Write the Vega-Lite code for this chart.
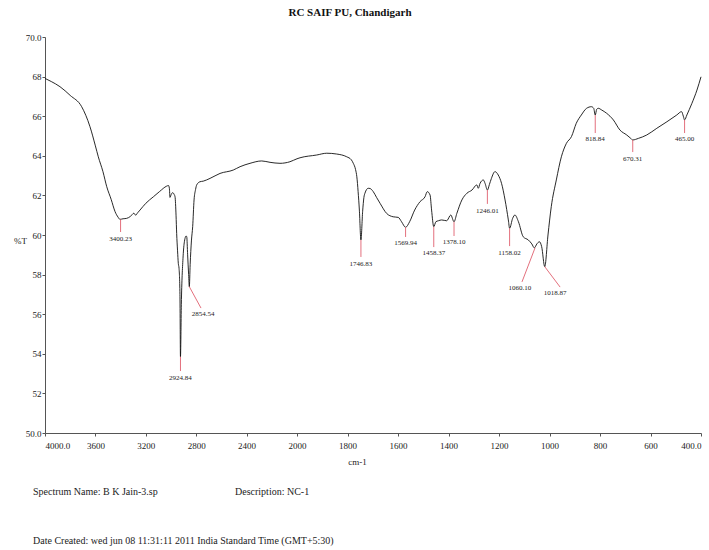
{
  "$schema": "https://vega.github.io/schema/vega-lite/v6.json",
  "width": 656,
  "height": 396,
  "autosize": "none",
  "padding": {"left": 45, "top": 37, "right": 8, "bottom": 117},
  "background": "white",
  "title": {"text": "RC SAIF PU, Chandigarh", "font": "Liberation Serif", "fontSize": 11, "fontWeight": "bold", "color": "#111", "dx": -23, "offset": 15},
  "config": {
    "view": {"stroke": null},
    "font": "Liberation Serif",
    "axis": {"grid": false, "domainColor": "#555", "tickColor": "#555", "labelColor": "#222", "labelFont": "Liberation Serif", "labelFontSize": 9, "titleFont": "Liberation Serif", "titleFontWeight": "normal", "titleColor": "#222", "titleFontSize": 9, "tickSize": 3, "labelOverlap": false}
  },
  "datasets": {
    "spectrum": [
      {"wn": 4000, "T": 67.91}, {"wn": 3950, "T": 67.75}, {"wn": 3881, "T": 67.49}, {"wn": 3800, "T": 67.05},
      {"wn": 3709, "T": 66.48}, {"wn": 3643, "T": 65.47}, {"wn": 3600, "T": 64.5}, {"wn": 3577, "T": 63.95},
      {"wn": 3540, "T": 63.2}, {"wn": 3510, "T": 62.44}, {"wn": 3475, "T": 61.8}, {"wn": 3444, "T": 61.18},
      {"wn": 3420, "T": 60.9}, {"wn": 3405, "T": 60.79}, {"wn": 3380, "T": 60.82}, {"wn": 3352, "T": 60.84},
      {"wn": 3320, "T": 60.95}, {"wn": 3295, "T": 61.1}, {"wn": 3280, "T": 61.0}, {"wn": 3265, "T": 61.12},
      {"wn": 3246, "T": 61.26}, {"wn": 3200, "T": 61.6}, {"wn": 3140, "T": 61.93}, {"wn": 3090, "T": 62.2},
      {"wn": 3034, "T": 62.47}, {"wn": 3020, "T": 62.5}, {"wn": 3013, "T": 62.36}, {"wn": 3008, "T": 61.9},
      {"wn": 2998, "T": 62.05}, {"wn": 2987, "T": 62.14}, {"wn": 2975, "T": 62.05}, {"wn": 2968, "T": 61.93},
      {"wn": 2960, "T": 61.0}, {"wn": 2955, "T": 60.08}, {"wn": 2948, "T": 59.2}, {"wn": 2942, "T": 58.57},
      {"wn": 2936, "T": 58.3}, {"wn": 2929, "T": 57.0}, {"wn": 2924.84, "T": 53.85}, {"wn": 2918, "T": 56.5},
      {"wn": 2905, "T": 58.8}, {"wn": 2895, "T": 59.6}, {"wn": 2880, "T": 59.95}, {"wn": 2875, "T": 59.91},
      {"wn": 2868, "T": 59.0}, {"wn": 2860, "T": 58.0}, {"wn": 2854.54, "T": 57.39}, {"wn": 2848, "T": 58.5},
      {"wn": 2838, "T": 59.7}, {"wn": 2828, "T": 60.42}, {"wn": 2817, "T": 61.77}, {"wn": 2805, "T": 62.3},
      {"wn": 2796, "T": 62.53}, {"wn": 2770, "T": 62.69}, {"wn": 2744, "T": 62.72}, {"wn": 2690, "T": 62.86},
      {"wn": 2611, "T": 63.11}, {"wn": 2506, "T": 63.28}, {"wn": 2452, "T": 63.45}, {"wn": 2373, "T": 63.62},
      {"wn": 2280, "T": 63.74}, {"wn": 2214, "T": 63.67}, {"wn": 2135, "T": 63.62}, {"wn": 2056, "T": 63.7},
      {"wn": 2000, "T": 63.85}, {"wn": 1988, "T": 63.9}, {"wn": 1922, "T": 64.04}, {"wn": 1882, "T": 64.13},
      {"wn": 1843, "T": 64.09}, {"wn": 1803, "T": 63.95}, {"wn": 1785, "T": 63.8}, {"wn": 1777, "T": 63.62},
      {"wn": 1768, "T": 63.3}, {"wn": 1763, "T": 62.94}, {"wn": 1758, "T": 62.2}, {"wn": 1753, "T": 61.26},
      {"wn": 1746.83, "T": 59.75}, {"wn": 1740, "T": 61.2}, {"wn": 1735, "T": 61.9}, {"wn": 1731, "T": 62.11},
      {"wn": 1718, "T": 62.36}, {"wn": 1711, "T": 62.35}, {"wn": 1698, "T": 62.19}, {"wn": 1685, "T": 61.9},
      {"wn": 1671, "T": 61.6}, {"wn": 1645, "T": 61.09}, {"wn": 1619, "T": 60.92}, {"wn": 1599, "T": 60.89},
      {"wn": 1586, "T": 60.67}, {"wn": 1569.94, "T": 60.39}, {"wn": 1554, "T": 60.67}, {"wn": 1534, "T": 61.26},
      {"wn": 1513, "T": 61.68}, {"wn": 1493, "T": 61.93}, {"wn": 1484, "T": 62.19}, {"wn": 1473, "T": 62.02},
      {"wn": 1467, "T": 61.26}, {"wn": 1458.37, "T": 60.42}, {"wn": 1450, "T": 60.67}, {"wn": 1440, "T": 60.72},
      {"wn": 1427, "T": 60.76}, {"wn": 1407, "T": 60.72}, {"wn": 1391, "T": 61.01}, {"wn": 1378.1, "T": 60.67},
      {"wn": 1367, "T": 61.09}, {"wn": 1347, "T": 61.77}, {"wn": 1327, "T": 62.11}, {"wn": 1307, "T": 62.27},
      {"wn": 1288, "T": 62.53}, {"wn": 1282, "T": 62.36}, {"wn": 1275, "T": 62.61}, {"wn": 1262, "T": 62.78},
      {"wn": 1255, "T": 62.6}, {"wn": 1246.01, "T": 62.27}, {"wn": 1238, "T": 62.55}, {"wn": 1230, "T": 62.86},
      {"wn": 1216, "T": 63.2}, {"wn": 1203, "T": 63.03}, {"wn": 1190, "T": 62.61}, {"wn": 1176, "T": 61.77},
      {"wn": 1163, "T": 60.76}, {"wn": 1158.02, "T": 60.34}, {"wn": 1146, "T": 60.84}, {"wn": 1137, "T": 61.01},
      {"wn": 1123, "T": 60.67}, {"wn": 1104, "T": 59.91}, {"wn": 1084, "T": 59.75}, {"wn": 1070, "T": 59.55},
      {"wn": 1060.1, "T": 59.35}, {"wn": 1050, "T": 59.55}, {"wn": 1040, "T": 59.66}, {"wn": 1031, "T": 59.41},
      {"wn": 1018.87, "T": 58.4}, {"wn": 1006, "T": 60.0}, {"wn": 993, "T": 61.43}, {"wn": 973, "T": 62.78},
      {"wn": 953, "T": 63.95}, {"wn": 933, "T": 64.63}, {"wn": 913, "T": 64.97}, {"wn": 894, "T": 65.64},
      {"wn": 874, "T": 66.06}, {"wn": 853, "T": 66.4}, {"wn": 834, "T": 66.48}, {"wn": 825, "T": 66.4},
      {"wn": 818.84, "T": 66.06}, {"wn": 813, "T": 66.35}, {"wn": 807, "T": 66.4}, {"wn": 793, "T": 66.31},
      {"wn": 774, "T": 66.15}, {"wn": 747, "T": 65.81}, {"wn": 721, "T": 65.3}, {"wn": 694, "T": 65.05},
      {"wn": 680, "T": 64.9}, {"wn": 670.31, "T": 64.8}, {"wn": 648, "T": 64.88}, {"wn": 615, "T": 65.05},
      {"wn": 575, "T": 65.39}, {"wn": 535, "T": 65.72}, {"wn": 496, "T": 66.06}, {"wn": 477, "T": 66.23},
      {"wn": 470, "T": 66.0}, {"wn": 465, "T": 65.81}, {"wn": 456, "T": 66.06}, {"wn": 436, "T": 66.65},
      {"wn": 416, "T": 67.32}, {"wn": 400, "T": 67.99}
    ],
    "peaks": [
      {"label": "3400.23", "wn": 3400.23, "T": 60.79, "wl": 3400.23, "Tl": 60.15, "wt": 3400.23, "Tt": 59.8},
      {"label": "2924.84", "wn": 2924.84, "T": 53.85, "wl": 2924.84, "Tl": 53.13, "wt": 2924.84, "Tt": 52.78},
      {"label": "2854.54", "wn": 2854.54, "T": 57.39, "wl": 2762, "Tl": 56.31, "wt": 2746, "Tt": 56.01},
      {"label": "1746.83", "wn": 1746.83, "T": 59.75, "wl": 1746.83, "Tl": 58.89, "wt": 1746.83, "Tt": 58.54},
      {"label": "1569.94", "wn": 1569.94, "T": 60.39, "wl": 1569.94, "Tl": 59.9, "wt": 1569.94, "Tt": 59.6},
      {"label": "1458.37", "wn": 1458.37, "T": 60.42, "wl": 1458.37, "Tl": 59.39, "wt": 1458.37, "Tt": 59.09},
      {"label": "1378.10", "wn": 1378.1, "T": 60.67, "wl": 1378.1, "Tl": 59.95, "wt": 1378.1, "Tt": 59.65},
      {"label": "1246.01", "wn": 1246.01, "T": 62.27, "wl": 1246.01, "Tl": 61.57, "wt": 1246.01, "Tt": 61.21},
      {"label": "1158.02", "wn": 1158.02, "T": 60.34, "wl": 1158.02, "Tl": 59.44, "wt": 1158.02, "Tt": 59.09},
      {"label": "1060.10", "wn": 1057, "T": 59.36, "wl": 1109, "Tl": 57.63, "wt": 1117, "Tt": 57.32},
      {"label": "1018.87", "wn": 1018.87, "T": 58.4, "wl": 958, "Tl": 57.37, "wt": 978, "Tt": 57.07},
      {"label": "818.84", "wn": 818.84, "T": 66.06, "wl": 818.84, "Tl": 65.15, "wt": 818.84, "Tt": 64.85},
      {"label": "670.31", "wn": 670.31, "T": 64.8, "wl": 670.31, "Tl": 64.19, "wt": 670.31, "Tt": 63.84},
      {"label": "465.00", "wn": 465, "T": 65.81, "wl": 465, "Tl": 65.15, "wt": 465, "Tt": 64.85}
    ],
    "notes": [
      {"text": "Spectrum Name: B K Jain-3.sp", "wn": 4095, "T": 47.02},
      {"text": "Description: NC-1", "wn": 2492, "T": 47.02},
      {"text": "Date Created: wed jun 08 11:31:11 2011 India Standard Time (GMT+5:30)", "wn": 4095, "T": 44.55}
    ]
  },
  "layer": [
    {
      "data": {"name": "spectrum"},
      "mark": {"type": "line", "color": "#111", "strokeWidth": 0.9, "interpolate": "monotone"},
      "encoding": {
        "x": {"field": "wn", "type": "quantitative", "sort": null,
          "scale": {"domain": [4000, 2000, 400], "range": [0, 252, 656], "nice": false, "zero": false},
          "axis": {"values": [4000, 3600, 3200, 2800, 2400, 2000, 1800, 1600, 1400, 1200, 1000, 800, 600, 400],
            "tickCount": 20, "format": "d", "labelExpr": "datum.value == 4000 ? '4000.0' : datum.value == 400 ? '400.0' : datum.label",
            "labelOverlap": false, "labelPadding": 5, "title": "cm-1", "titleX": 312, "titleY": 24, "titleAnchor": "middle"}},
        "y": {"field": "T", "type": "quantitative",
          "scale": {"domain": [50, 70], "nice": false, "zero": false},
          "axis": {"values": [50, 52, 54, 56, 58, 60, 62, 64, 66, 68, 70], "tickCount": 20,
            "labelExpr": "datum.value == 50 || datum.value == 70 ? format(datum.value, '.1f') : format(datum.value, 'd')",
            "labelOverlap": false, "labelBound": false, "labelFlush": false,
            "labelPadding": 1, "title": "%T", "titleAngle": 0, "titleX": -25, "titleY": 203, "titleAlign": "center", "titleBaseline": "middle"}}
      }
    },
    {
      "data": {"name": "peaks"},
      "mark": {"type": "rule", "color": "#e0606e", "strokeWidth": 0.9},
      "encoding": {
        "x": {"field": "wn", "type": "quantitative"},
        "y": {"field": "T", "type": "quantitative"},
        "x2": {"field": "wl"},
        "y2": {"field": "Tl"}
      }
    },
    {
      "data": {"name": "peaks"},
      "mark": {"type": "text", "font": "Liberation Serif", "fontSize": 7, "color": "#222", "baseline": "middle", "align": "center"},
      "encoding": {
        "x": {"field": "wt", "type": "quantitative"},
        "y": {"field": "Tt", "type": "quantitative"},
        "text": {"field": "label"}
      }
    },
    {
      "data": {"name": "notes"},
      "mark": {"type": "text", "font": "Liberation Serif", "fontSize": 10, "color": "#222", "baseline": "middle", "align": "left"},
      "encoding": {
        "x": {"field": "wn", "type": "quantitative"},
        "y": {"field": "T", "type": "quantitative"},
        "text": {"field": "text"}
      }
    }
  ]
}
